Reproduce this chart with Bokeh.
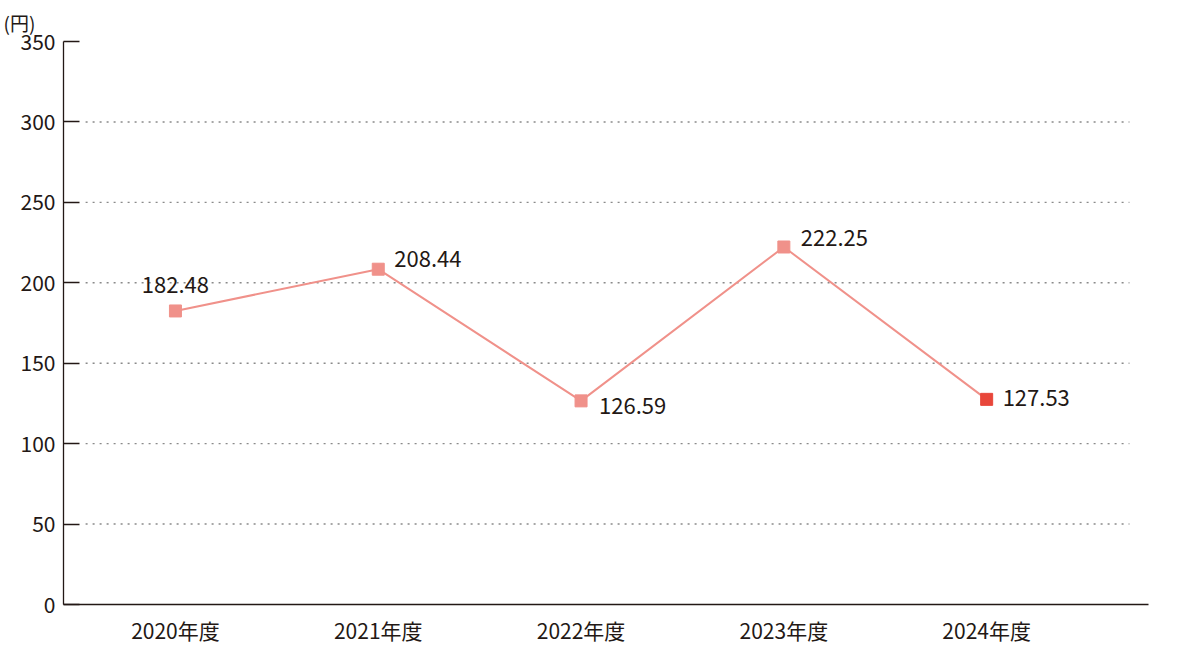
from bokeh.plotting import figure
from bokeh.models import FixedTicker, Range1d, Label
from bokeh.embed import file_html
from bokeh.resources import INLINE

# ---- data ----
categories = ["2020年度", "2021年度", "2022年度", "2023年度", "2024年度"]
values = [182.48, 208.44, 126.59, 222.25, 127.53]
y_ticks = [0, 50, 100, 150, 200, 250, 300, 350]
grid_values = [50, 100, 150, 200, 250, 300]
unit_label = "(円)"

FONT = "Noto Sans CJK JP"
TXT = "#231815"
LINE = "#f0918a"
LAST = "#e8463a"

xs = list(range(len(categories)))

p = figure(width=1164, height=654, output_backend="svg", toolbar_location=None,
           x_range=Range1d(-0.552, 4.798), y_range=Range1d(0, 350),
           min_border_left=63, min_border_right=16, min_border_top=41, min_border_bottom=50,
           title=unit_label)
p.outline_line_color = None
p.background_fill_color = "white"
p.border_fill_color = "white"
p.xgrid.visible = False
p.ygrid.visible = False

# unit label as title, pulled left above the y-axis labels
p.title.align = "left"
p.title.offset = -60
p.title.standoff = 12
p.title.text_font = FONT
p.title.text_font_size = "19px"
p.title.text_font_style = "normal"
p.title.text_color = TXT

# dotted grid lines (not spanning full frame)
p.segment(x0=-0.443, x1=4.704, y0=grid_values, y1=grid_values,
          line_color="#8a8a8a", line_width=1.4, line_dash="2 5")

# axes
p.yaxis.ticker = FixedTicker(ticks=y_ticks)
p.yaxis.major_tick_in = 16
p.yaxis.major_tick_out = 0
p.yaxis.minor_tick_line_color = None
p.yaxis.axis_line_color = TXT
p.yaxis.major_tick_line_color = TXT
p.yaxis.axis_line_width = 1.3
p.yaxis.major_tick_line_width = 1.3
p.yaxis.major_label_text_font = FONT
p.yaxis.major_label_text_font_size = "21px"
p.yaxis.major_label_text_color = TXT
p.yaxis.major_label_standoff = 8

p.xaxis.ticker = FixedTicker(ticks=xs)
p.xaxis.major_label_overrides = {i: c for i, c in enumerate(categories)}
p.xaxis.major_tick_line_color = None
p.xaxis.minor_tick_line_color = None
p.xaxis.axis_line_color = TXT
p.xaxis.axis_line_width = 1.3
p.xaxis.major_label_text_font = FONT
p.xaxis.major_label_text_font_size = "21px"
p.xaxis.major_label_text_color = TXT
p.xaxis.major_label_standoff = 4

# line + markers
p.line(xs, values, line_color=LINE, line_width=2)
colors = [LINE] * (len(values) - 1) + [LAST]
p.scatter(xs, values, marker="square", size=12, fill_color=colors, line_color=colors)

# value labels
label_dx = [0, 16, 18, 17, 16]
label_dy = [26, 10, -5, 9, 1]
label_align = ["center", "left", "left", "left", "left"]
for i, v in enumerate(values):
    p.add_layout(Label(x=xs[i], y=v, text=f"{v:.2f}", x_offset=label_dx[i], y_offset=label_dy[i],
                       text_align=label_align[i], text_baseline="alphabetic",
                       text_font=FONT, text_font_size="22px", text_color=TXT))

open("out.html", "w").write(file_html(p, INLINE))
